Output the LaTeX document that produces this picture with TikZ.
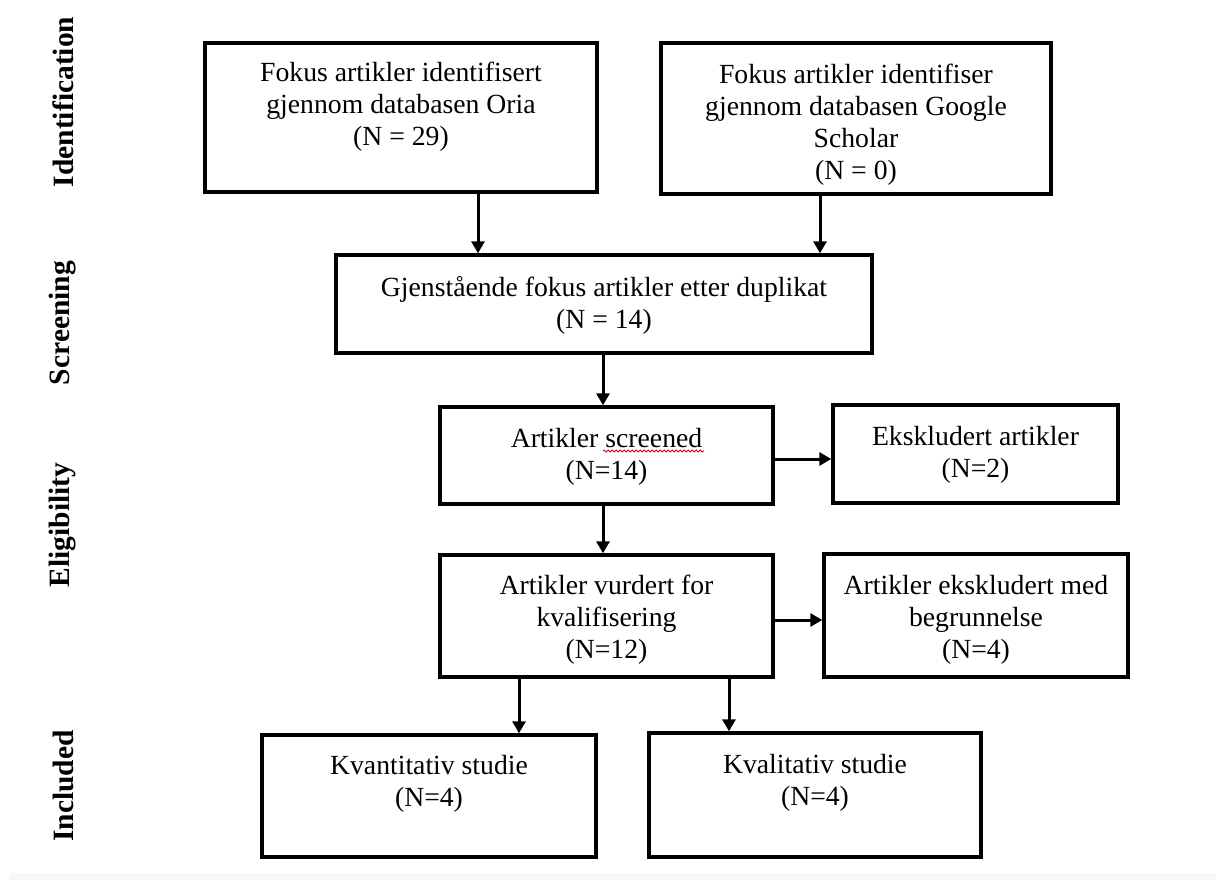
\documentclass[tikz,border=0pt]{standalone}
\usepackage{fontspec}
\setmainfont{Liberation Serif}
\usetikzlibrary{arrows.meta,decorations.pathmorphing}
\begin{document}
\begin{tikzpicture}[x=1pt,y=-1pt,
  boxnode/.style={draw=black,line width=3.4pt,rectangle,inner sep=0pt},
  txt/.style={align=center,font=\fontsize{27.7}{32}\selectfont,inner sep=0pt},
  phase/.style={rotate=90,font=\fontsize{29.5}{34}\selectfont\bfseries,inner sep=0pt},
  arr/.style={line width=3pt,-{Triangle[width=13pt,length=12pt]}}
]
\useasboundingbox (0,0) rectangle (1216,880);
\fill[black!3] (10,873) rectangle (1216,880);

% phase labels
\node[phase] (lid) at (63,102) {Identification};
\node[phase] (lsc) at (63,323) {Screening};
\node[phase] (lel) at (63,525) {Eligibility};
\node[phase] (lin) at (63,786) {Included};

% boxes
\node[boxnode,minimum width=392pt,minimum height=149pt] (oria) at (401,117.5) {};
\node[boxnode,minimum width=390pt,minimum height=151pt] (google) at (856,118.5) {};
\node[boxnode,minimum width=536pt,minimum height=98pt] (gjen) at (604,304) {};
\node[boxnode,minimum width=333pt,minimum height=97pt] (scr) at (606.5,455.5) {};
\node[boxnode,minimum width=285pt,minimum height=98pt] (eks) at (975.5,454) {};
\node[boxnode,minimum width=333pt,minimum height=122pt] (vur) at (606.5,616) {};
\node[boxnode,minimum width=304pt,minimum height=123pt] (beg) at (976,615.5) {};
\node[boxnode,minimum width=334pt,minimum height=122pt] (kvant) at (429,796) {};
\node[boxnode,minimum width=332pt,minimum height=124pt] (kval) at (815,795) {};

% texts
\node[txt] (toria) at ([yshift=10.5pt]oria.center) {Fokus artikler identifisert\\gjennom databasen Oria\\(N = 29)};
\node[txt] (tgoogle) at ([yshift=-6pt]google.center) {Fokus artikler identifiser\\gjennom databasen Google\\Scholar\\(N = 0)};
\node[txt] (tgjen) at ([yshift=-1pt]gjen.center) {Gjenstående fokus artikler etter duplikat\\(N = 14)};
\node[txt] (tscr) at ([yshift=-1pt]scr.center) {Artikler screened\\(N=14)};
\node[txt] (teks) at ([yshift=-1pt]eks.center) {Ekskludert artikler\\(N=2)};
\node[txt] (tvur) at ([yshift=-4pt]vur.center) {Artikler vurdert for\\kvalifisering\\(N=12)};
\node[txt] (tbeg) at ([yshift=-4pt]beg.center) {Artikler ekskludert med\\begrunnelse\\(N=4)};
\node[txt] (tkvant) at ([yshift=12pt]kvant.center) {Kvantitativ studie\\(N=4)};
\node[txt] (tkval) at ([yshift=12pt]kval.center) {Kvalitativ studie\\(N=4)};

% spell-check squiggle under "screened"
\draw[red!85!black,line width=0.8pt,decorate,decoration={snake,amplitude=1.1pt,segment length=4pt}] (603,451) -- (704,451);

% connectors
\draw[arr] (oria.south -| 478,0) -- (gjen.north -| 478,0);
\draw[arr] (google.south -| 820,0) -- (gjen.north -| 820,0);
\draw[arr] (gjen.south -| 603,0) -- (scr.north -| 603,0);
\draw[arr] (scr.east |- 0,459) -- (eks.west |- 0,459);
\draw[arr] (scr.south -| 603,0) -- (vur.north -| 603,0);
\draw[arr] (vur.east |- 0,620) -- (beg.west |- 0,620);
\draw[arr] (vur.south -| 519,0) -- (kvant.north -| 519,0);
\draw[arr] (vur.south -| 729,0) -- (kval.north -| 729,0);
\end{tikzpicture}
\end{document}
